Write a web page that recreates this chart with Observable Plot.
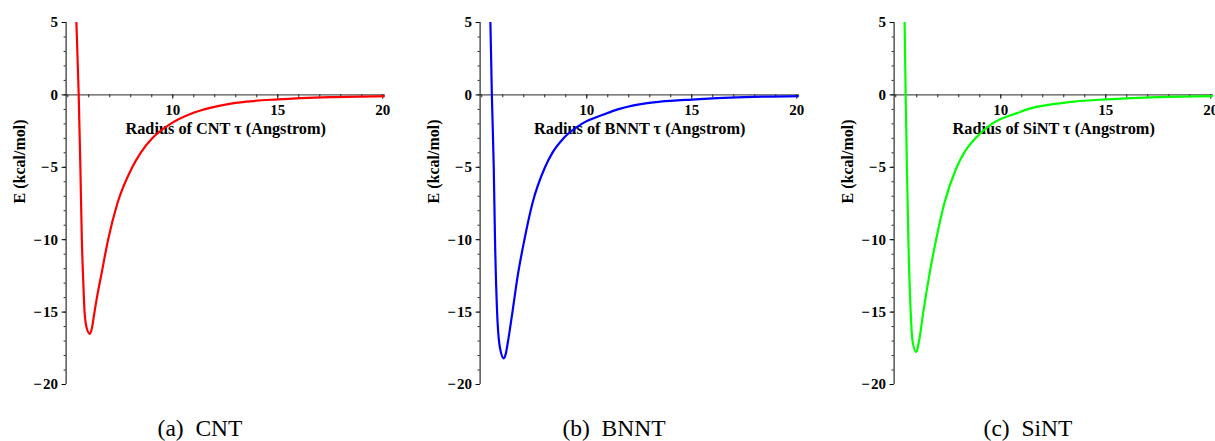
<!DOCTYPE html>
<html><head><meta charset="utf-8">
<script src="https://cdn.jsdelivr.net/npm/d3@7"></script>
<script src="https://cdn.jsdelivr.net/npm/@observablehq/plot@0.6"></script>
<style>
body{margin:0;background:#fff;overflow:hidden;}
#wrap{position:relative;width:1215px;height:441px;overflow:hidden;background:#fff;}
.panel{position:absolute;top:0;width:410px;height:441px;}
.panel svg{position:absolute;left:0;top:0;}
.caption{position:absolute;left:0;width:400px;top:417px;text-align:center;font-family:"Liberation Serif",serif;font-size:23.5px;line-height:1;white-space:pre;color:#000;}
</style></head><body><div id="wrap"></div>
<script>
// ---- data ----
const cntR  = [5.35, 5.41, 5.52, 5.60, 5.67, 5.74, 5.80, 5.90, 6.05, 6.15, 6.25, 6.40, 6.60, 6.92, 7.36, 8.07, 8.47, 9.02, 9.89, 10.84, 11.32, 12.57, 13.5, 15, 17.5, 20.1];
const cntE  = [8, 5, 0, -5, -10, -13, -15, -16.1, -16.5, -16.1, -15.2, -13.9, -12.4, -10, -7.5, -5, -4, -3, -2, -1.32, -1.08, -0.66, -0.47, -0.31, -0.155, -0.08];

const bnntR = [5.35, 5.41, 5.48, 5.57, 5.63, 5.73, 5.87, 6.05, 6.14, 6.24, 6.46, 6.71, 7.03, 7.41, 8.01, 8.36, 8.89, 9.76, 10.87, 11.22, 12.65, 13.5, 15, 17.5, 20.1];
const bnntE = [8, 5, 0, -5, -10, -15, -17.5, -18.2, -17.9, -17.1, -15, -12.5, -10, -7.5, -5, -4, -3, -2, -1.32, -1.12, -0.62, -0.47, -0.32, -0.155, -0.08];

const sintR = [5.37, 5.42, 5.47, 5.53, 5.60, 5.71, 5.80, 5.97, 6.03, 6.12, 6.31, 6.59, 6.92, 7.31, 7.90, 8.25, 8.79, 9.57, 10.92, 11.15, 12.6, 13.5, 15, 17.5, 20.1];
const sintE = [8, 5, 0, -5, -10, -15, -17, -17.76, -17.55, -16.9, -15, -12.5, -10, -7.5, -5, -4, -3, -2, -1.18, -1.05, -0.62, -0.46, -0.31, -0.15, -0.08];

const panelNames    = ["CNT", "BNNT", "SiNT"];
const panelLetters  = ["a", "b", "c"];
const panelColors   = ["#ff0000", "#0000ff", "#00ff00"];
const panelR = [cntR, bnntR, sintR];
const panelE = [cntE, bnntE, sintE];

const xDomain = [4.92, 20.12];
const yDomain = [-20, 5];
const xMinorTicks = d3.range(5, 21);
const xMajorTicks = [10, 15, 20];
const yMinorTicks = d3.range(-20, 6);
const yMajorTicks = [-20, -15, -10, -5, 0, 5];
const yLabel = "E (kcal/mol)";

// ---- layout ----
const panelLeft = [0, 414, 828];
const font = "'Liberation Serif', 'Times New Roman', serif";
const fmt = d => d < 0 ? "\u2212\u200A" + Math.abs(d) : String(d);

const wrap = document.getElementById("wrap");

panelNames.forEach((name, i) => {
  const data = panelR[i].map((r, k) => ({r, e: panelE[i][k]}));
  const chart = Plot.plot({
    width: 410, height: 400,
    marginLeft: 65.6, marginRight: 25.2, marginTop: 22, marginBottom: 16,
    x: {domain: xDomain, axis: null, label: null},
    y: {domain: yDomain, axis: null, label: null},
    style: {fontFamily: font, fontWeight: "bold", fontSize: "15px", background: "transparent", overflow: "visible", color: "#000"},
    marks: [
      Plot.ruleY([0], {stroke: "#555", strokeWidth: 1.2}),
      Plot.ruleX(xMinorTicks, {x: d => d, y1: () => 0, y2: () => -0.2, stroke: "#222"}),
      Plot.ruleX(xMajorTicks, {x: d => d, y1: () => 0, y2: () => -0.3, stroke: "#222"}),
      Plot.text(xMajorTicks, {x: d => d, y: () => 0, dy: 15, text: fmt, fontSize: 15, fontWeight: "bold", fill: "#000"}),
      Plot.ruleX([xDomain[0]], {stroke: "#000", strokeWidth: 1}),
      Plot.axisY({ticks: yMinorTicks, tickSize: 2, tickFormat: () => "", label: null, stroke: "#222"}),
      Plot.axisY({ticks: yMajorTicks, tickSize: 4, tickPadding: 4, tickFormat: fmt, label: null, fontSize: 15, fontWeight: "bold", fill: "#000"}),
      Plot.text([yLabel], {frameAnchor: "left", dx: -46, rotate: -90, text: d => d, fontSize: 16, fontWeight: "bold", fill: "#000"}),
      Plot.text([`Radius of ${name} \u03c4 (Angstrom)`], {frameAnchor: "middle", y: () => 0, dy: 33.5, text: d => d, fontSize: 16.3, fontWeight: "bold", fill: "#000"}),
      Plot.line(data, {x: "r", y: "e", stroke: panelColors[i], strokeWidth: 2.2, curve: "monotone-x", clip: true})
    ]
  });
  const div = document.createElement("div");
  div.className = "panel";
  div.style.left = panelLeft[i] + "px";
  div.appendChild(chart);
  const cap = document.createElement("div");
  cap.className = "caption";
  cap.textContent = `(${panelLetters[i]})  ${name}`;
  div.appendChild(cap);
  wrap.appendChild(div);
});
</script>
</body></html>
